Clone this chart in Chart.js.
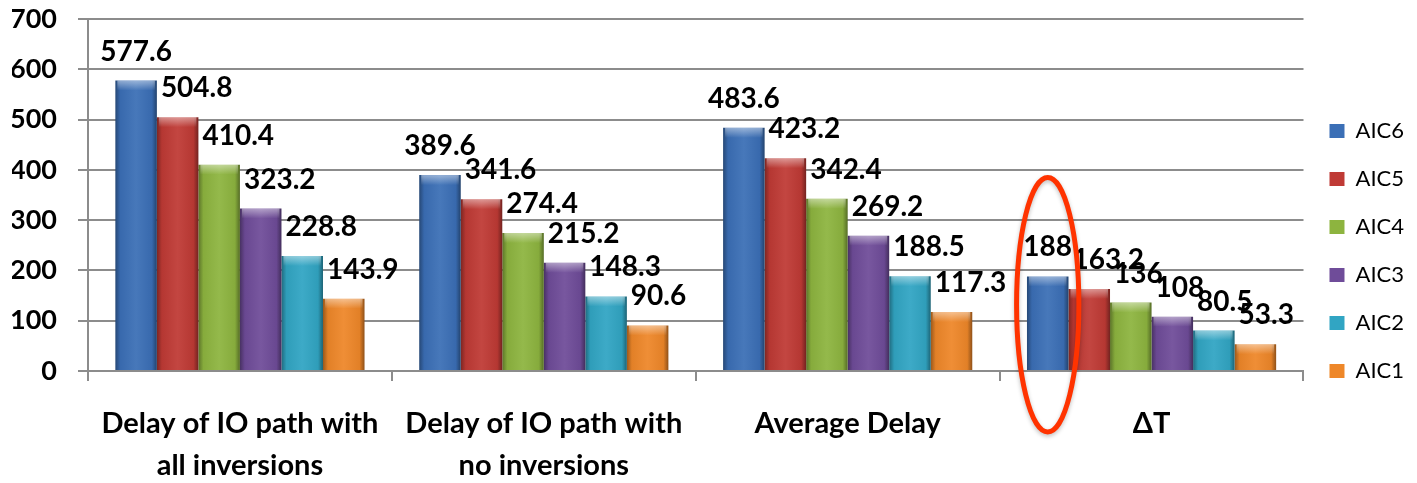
<!DOCTYPE html>
<html>
<head>
<meta charset="utf-8">
<script src="https://cdn.jsdelivr.net/npm/chart.js@4.4.1/dist/chart.umd.min.js"></script>
<style>
  body { margin: 0; background: #fff; }
  #wrap { width: 1417px; height: 483px; position: relative; }
</style>
</head>
<body>
<div id="wrap"><canvas id="grafico"></canvas></div>
<script>
// categorias del eje x (etiquetas en dos lineas)
const categorias = [
    ['Delay of IO path with', 'all inversions'],
    ['Delay of IO path with', 'no inversions'],
    'Average Delay',
    'ΔT'
];

const series = ['AIC6', 'AIC5', 'AIC4', 'AIC3', 'AIC2', 'AIC1'];

const aic6 = [577.6, 389.6, 483.6, 188];
const aic5 = [504.8, 341.6, 423.2, 163.2];
const aic4 = [410.4, 274.4, 342.4, 136];
const aic3 = [323.2, 215.2, 269.2, 108];
const aic2 = [228.8, 148.3, 188.5, 80.5];
const aic1 = [143.9, 90.6, 117.3, 53.3];

const ticksY = [0, 100, 200, 300, 400, 500, 600, 700];

const colores = ['#3b6fb6', '#bf3a35', '#8db43f', '#6f4c99', '#31a5c3', '#ee8729'];

// aclarar / oscurecer un color hex
function tono(hex, f) {
    const n = parseInt(hex.slice(1), 16);
    let r = (n >> 16) & 255, g = (n >> 8) & 255, b = n & 255;
    if (f < 0) {
        r = r * (1 + f); g = g * (1 + f); b = b * (1 + f);
    } else {
        r = r + (255 - r) * f; g = g + (255 - g) * f; b = b + (255 - b) * f;
    }
    return 'rgb(' + Math.round(r) + ',' + Math.round(g) + ',' + Math.round(b) + ')';
}

// degradado horizontal para que las barras parezcan en relieve
const relieve = {
    id: 'relieve',
    beforeDatasetsDraw(chart) {
        const ctx = chart.ctx;
        chart.data.datasets.forEach((ds, i) => {
            const base = colores[i];
            chart.getDatasetMeta(i).data.forEach(el => {
                const x0 = el.x - el.width / 2;
                const g = ctx.createLinearGradient(x0, 0, x0 + el.width, 0);
                g.addColorStop(0, tono(base, -0.35));
                g.addColorStop(0.12, tono(base, -0.05));
                g.addColorStop(0.5, tono(base, 0.06));
                g.addColorStop(0.88, tono(base, -0.05));
                g.addColorStop(1, tono(base, -0.4));
                el.options = Object.assign({}, el.options, { backgroundColor: g });
            });
        });
    },
    afterDatasetsDraw(chart) {
        // brillo en la parte superior de cada barra
        const ctx = chart.ctx;
        ctx.save();
        chart.data.datasets.forEach((ds, i) => {
            chart.getDatasetMeta(i).data.forEach(el => {
                const x0 = el.x - el.width / 2;
                const g = ctx.createLinearGradient(0, el.y, 0, el.y + 10);
                g.addColorStop(0, 'rgba(255,255,255,0.45)');
                g.addColorStop(1, 'rgba(255,255,255,0)');
                ctx.fillStyle = g;
                ctx.fillRect(x0 + 2, el.y, el.width - 4, 10);
            });
        });
        ctx.restore();
    }
};

// etiquetas de valor encima de las barras
const etiquetas = {
    id: 'etiquetas',
    afterDatasetsDraw(chart) {
        const ctx = chart.ctx;
        ctx.save();
        ctx.font = 'bold 28px Lato';
        ctx.fillStyle = '#000';
        ctx.textBaseline = 'middle';
        chart.data.datasets.forEach((ds, i) => {
            chart.getDatasetMeta(i).data.forEach((el, j) => {
                const txt = String(ds.data[j]);
                if (i === 0) {
                    ctx.textAlign = 'center';
                    ctx.fillText(txt, el.x, el.y - 29);
                } else {
                    ctx.textAlign = 'left';
                    ctx.fillText(txt, el.x - el.width / 2 + 4, el.y - 29);
                }
            });
        });
        ctx.restore();
    }
};

// ovalo rojo alrededor de la primera barra de ΔT
const ovalo = {
    id: 'ovalo',
    afterDraw(chart) {
        const el = chart.getDatasetMeta(0).data[3];
        if (!el) return;
        const ctx = chart.ctx;
        const arriba = el.y - 99;
        const abajo = el.base + 62;
        ctx.save();
        ctx.shadowColor = 'rgba(0,0,0,0.25)';
        ctx.shadowBlur = 4;
        ctx.shadowOffsetY = 2;
        ctx.strokeStyle = '#ff3300';
        ctx.lineWidth = 5;
        ctx.beginPath();
        ctx.ellipse(el.x, (arriba + abajo) / 2, el.width * 0.75, (abajo - arriba) / 2, 0, 0, Math.PI * 2);
        ctx.stroke();
        ctx.restore();
    }
};

const valores = [aic6, aic5, aic4, aic3, aic2, aic1];

const grafico = new Chart(document.getElementById('grafico').getContext('2d'), {
    type: 'bar',
    data: {
        labels: categorias,
        datasets: series.map((nombre, i) => ({
            label: nombre,
            data: valores[i],
            backgroundColor: colores[i],
            borderWidth: 0,
            categoryPercentage: 0.82,
            barPercentage: 1
        }))
    },
    options: {
        responsive: true,
        maintainAspectRatio: false,
        animation: false,
        layout: {
            padding: { top: 19, left: 12, right: 3, bottom: 0 }
        },
        plugins: {
            tooltip: { enabled: false },
            legend: {
                position: 'right',
                labels: {
                    boxWidth: 15,
                    boxHeight: 14,
                    padding: 26,
                    color: '#000',
                    font: { family: 'Lato', size: 22 }
                }
            }
        },
        scales: {
            x: {
                afterFit(scale) {
                    scale.height = 112;
                },
                grid: {
                    drawOnChartArea: false,
                    offset: true,
                    tickLength: 10,
                    color: '#8c8c8c',
                    lineWidth: 2
                },
                border: { color: '#8c8c8c', width: 2 },
                ticks: {
                    color: '#000',
                    padding: 22,
                    maxRotation: 0,
                    autoSkip: false,
                    font: { family: 'Lato', size: 29, weight: 'bold', lineHeight: 1.45 }
                }
            },
            y: {
                min: 0,
                max: 700,
                afterBuildTicks(scale) {
                    scale.ticks = ticksY.map(v => ({ value: v }));
                },
                afterFit(scale) {
                    scale.width = 76;
                    scale.paddingTop = 0;
                    scale.paddingBottom = 0;
                },
                grid: {
                    color: '#8c8c8c',
                    lineWidth: 2,
                    tickLength: 10
                },
                border: { color: '#8c8c8c', width: 2 },
                ticks: {
                    color: '#000',
                    padding: 21,
                    font: { family: 'Lato', size: 27, weight: 'bold' }
                }
            }
        }
    },
    plugins: [relieve, etiquetas, ovalo]
});
</script>
</body>
</html>
